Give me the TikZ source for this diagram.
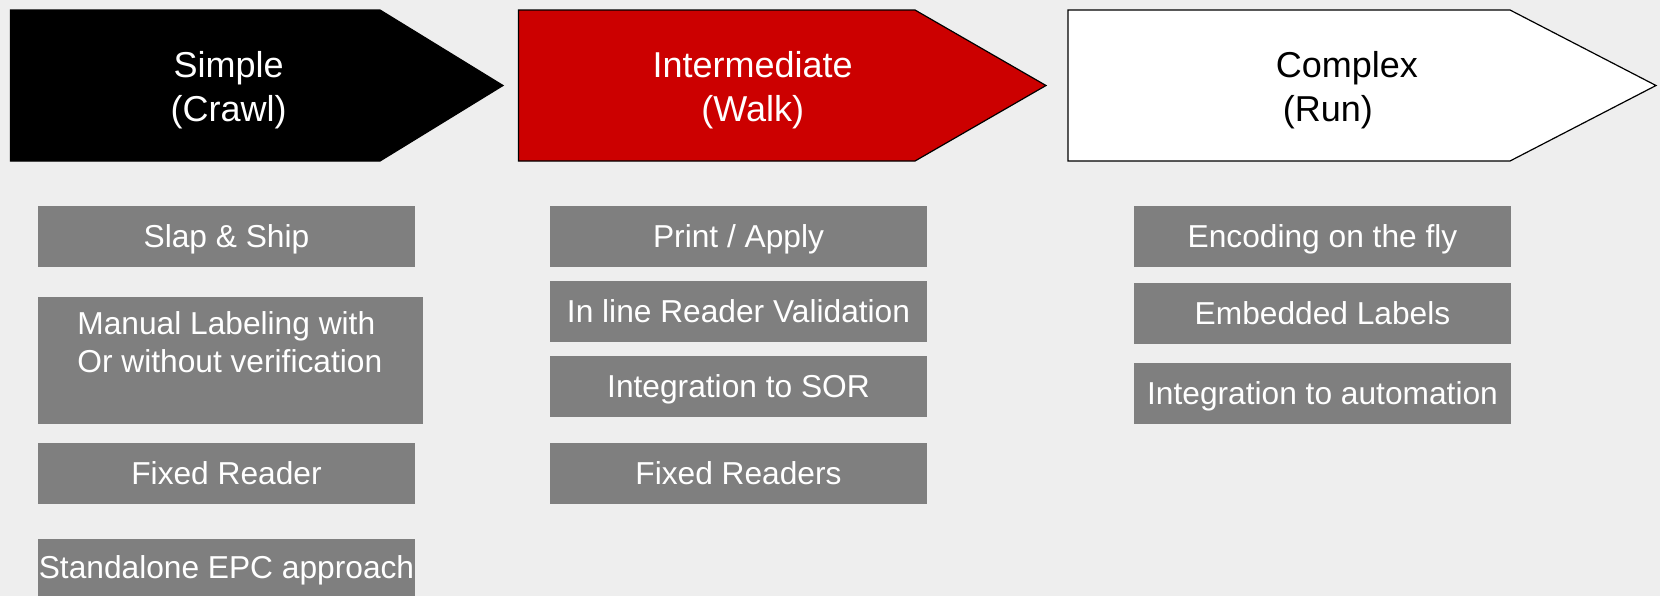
\documentclass[tikz,border=0pt]{standalone}
\usepackage{fontspec}
\setmainfont{Liberation Sans}
\definecolor{bg}{HTML}{EEEEEE}
\definecolor{boxgray}{HTML}{7F7F7F}
\definecolor{stepred}{HTML}{CC0000}
\tikzset{
  phase/.style={draw=black, line width=0.6pt, line join=miter},
  headtext/.style={font=\fontsize{18}{21.85}\selectfont, inner sep=0pt},
  item/.style={fill=boxgray, draw=none, inner sep=0pt, text=white,
    font=\fontsize{15.85}{19}\selectfont, text height=11.35pt, text depth=0pt,
    minimum height=30.5pt, minimum width=188.5pt}
}
\begin{document}
\begin{tikzpicture}[x=0.5pt,y=-0.5pt]
\fill[bg] (0,0) rectangle (1660,596);
\useasboundingbox (0,0) rectangle (1660,596);
% phase arrows
\path[phase, fill=black] (10.5,10) -- (380,10) -- (503,85.5) -- (380,161) -- (10.5,161) -- cycle;
\path[phase, fill=stepred] (518.5,10) -- (915,10) -- (1046,85.5) -- (915,161) -- (518.5,161) -- cycle;
\path[phase, fill=white] (1068,10) -- (1510,10) -- (1656,85.5) -- (1510,161) -- (1068,161) -- cycle;
\node[headtext, text=white, align=center, anchor=base] (simple) at (228.6,121) {Simple\\(Crawl)};
\node[headtext, text=white, align=center, anchor=base] (inter) at (752.7,121) {Intermediate\\(Walk)};
\node[headtext, text=black, align=left, anchor=base west] (complex) at (1275.5,121) {Complex\\\hspace*{3.5pt}(Run)};
% column 1
\node[item] (c1a) at (226.5,236.5) {Slap \& Ship};
\node[item, minimum width=192.5pt, minimum height=63.5pt] (c1b) at (230.5,360.5) {};
\node[font=\fontsize{15.85}{19}\selectfont, text=white, align=left, anchor=base west, inner sep=0pt] (c1bt) at (77,372) {Manual Labeling with\\Or without verification};
\node[item] (c1c) at (226.5,473.5) {Fixed Reader};
\node[item, minimum height=28.5pt] (c1d) at (226.5,567.5) {Standalone EPC approach};
% column 2
\node[item] (c2a) at (738.5,236.5) {Print / Apply};
\node[item] (c2b) at (738.5,311.5) {In line Reader Validation};
\node[item] (c2c) at (738.5,386.5) {Integration to SOR};
\node[item] (c2d) at (738.5,473.5) {Fixed Readers};
% column 3
\node[item] (c3a) at (1322.5,236.5) {Encoding on the fly};
\node[item] (c3b) at (1322.5,313.5) {Embedded Labels};
\node[item] (c3c) at (1322.5,393.5) {Integration to automation};
\end{tikzpicture}
\end{document}
